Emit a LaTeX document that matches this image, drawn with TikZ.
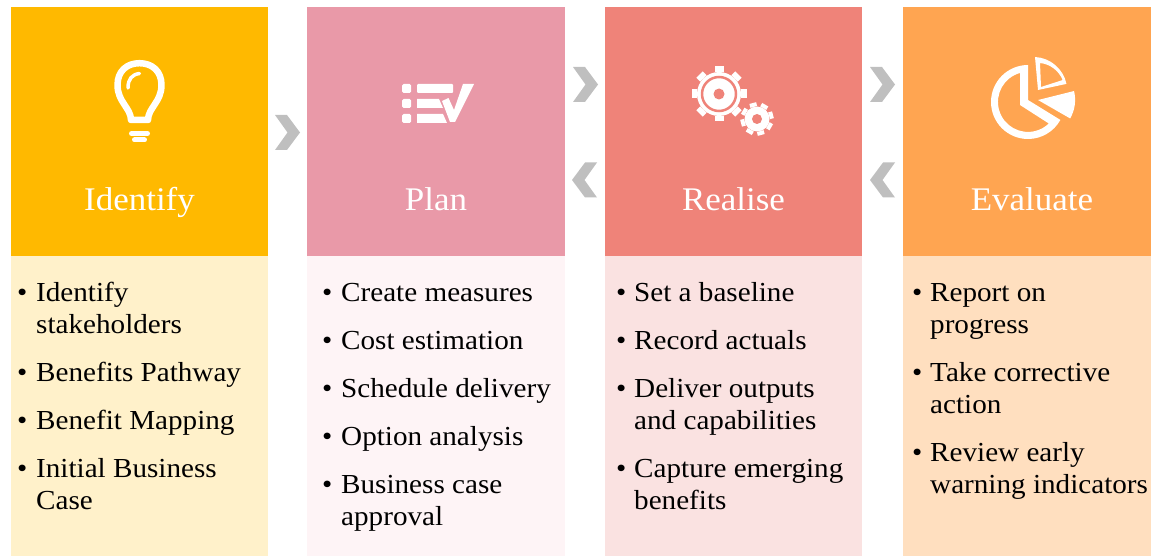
\documentclass[tikz,border=0pt]{standalone}
\usepackage{fontspec}
\setmainfont[FakeStretch=1.06]{Liberation Serif}
\definecolor{cA}{HTML}{FFB900}\definecolor{pA}{HTML}{FFF1CA}
\definecolor{cB}{HTML}{E999A8}\definecolor{pB}{HTML}{FEF4F6}
\definecolor{cC}{HTML}{EF8379}\definecolor{pC}{HTML}{FAE2E1}
\definecolor{cD}{HTML}{FFA551}\definecolor{pD}{HTML}{FFDFBF}
\definecolor{chev}{HTML}{BFBFBF}
\tikzset{
  x=1pt,y=-1pt,
  title/.style={text=white,inner sep=0,anchor=base,font=\fontsize{33}{33}\selectfont},
  itemtext/.style={inner sep=0,anchor=north west,align=left,text=black,
     font=\fontsize{27.5}{32}\selectfont},
  chevron/.style={fill=chev,draw=none},
  icon/.style={draw=white,fill=none,line width=#1},
}
\newcommand{\bulleted}[5]{%
  \node[itemtext] (#1) at (#3,#4-21.4) {\strut #5};
  \node[itemtext] (#1b) at (#2,#4-21.4) {\strut •};
}
\newcommand{\chevright}[2]{\fill[chevron] (#1,#2-17.5) -- ++(12,0) -- ++(13,17.5) -- ++(-13,17.5) -- ++(-12,0) -- ++(12.5,-17.5) -- cycle;}
\newcommand{\chevleft}[2]{\fill[chevron] (#1,#2-17.5) -- ++(-12,0) -- ++(-13,17.5) -- ++(13,17.5) -- ++(12,0) -- ++(-12.5,-17.5) -- cycle;}
\newcommand{\gearteeth}[6]{%
  \foreach \a in {0,45,...,315}{
    \fill[white,rotate around={\a+#6:(#1,#2)}] (#1-#5,#2-#3) -- (#1-#5,#2-#4) -- (#1+#5,#2-#4) -- (#1+#5,#2-#3) -- cycle;
  }
  \fill[white] (#1,#2) circle[radius=#3];
}
\begin{document}
\begin{tikzpicture}
\useasboundingbox (0,0) rectangle (1151,556);
\fill[cA] (11,7) rectangle (268,256);  \fill[pA] (11,256) rectangle (268,556);
\fill[cB] (307,7) rectangle (565,256); \fill[pB] (307,256) rectangle (565,556);
\fill[cC] (605,7) rectangle (862,256); \fill[pC] (605,256) rectangle (862,556);
\fill[cD] (903,7) rectangle (1151,256);\fill[pD] (903,256) rectangle (1151,556);
\chevright{275}{132.5}
\chevright{573}{84.5}
\chevleft{597}{180}
\chevright{870}{84.5}
\chevleft{895}{180}
\node[title] (t1) at (139.5,211) {Identify};
\node[title] (t2) at (436,211) {Plan};
\node[title] (t3) at (733.5,211) {Realise};
\node[title] (t4) at (1032,211) {Evaluate};
% bulb
\draw[icon=6.5pt,line join=round] (131,120) .. controls (131,108) and (117.5,102) .. (117.5,85)
   .. controls (117.5,71) and (127,63.2) .. (139.5,63.2) .. controls (152,63.2) and (161.5,71) .. (161.5,85)
   .. controls (161.5,102) and (148,108) .. (148,120) -- cycle;
\draw[icon=3.5pt,line cap=round] (128,88) .. controls (128,79) and (132,74.5) .. (139.5,73.5);
\draw[icon=5pt,line cap=round] (131.5,133.5) -- (147.5,133.5);
\draw[icon=5pt,line cap=round] (134.5,140) -- (144.5,140);
% checklist
\fill[white,rounded corners=1.5pt] (402,84) rectangle (411,93);
\fill[white,rounded corners=1.5pt] (402,99) rectangle (411,108);
\fill[white,rounded corners=1.5pt] (402,114) rectangle (411,123);
\fill[white,rounded corners=1pt] (417,84) rectangle (453,93);
\fill[white] (417,99) -- (439,99) -- (443,108) -- (417,108) -- cycle;
\fill[white] (417,114) -- (443,114) -- (447,123) -- (417,123) -- cycle;
\fill[white] (442,101) -- (448.5,98) -- (454,110) -- (463,84) -- (474,84) -- (455,122) -- (450,122) -- cycle;
% gears
\gearteeth{719}{94}{22}{27.5}{4.5}{0}
\draw[draw=cC,line width=2.5pt] (719,94) circle[radius=17];
\fill[cC] (719,94) circle[radius=5.5];
\gearteeth{757}{119}{12.5}{16.5}{3.5}{15}
\fill[cC] (757,119) circle[radius=5];
% pie
\fill[white,even odd rule]
  (1028,65) arc[start angle=270,end angle=29,radius=37] -- (1028,100) -- cycle
  (1020,73) arc[start angle=254.6,end angle=46,radius=30] -- (1020,105) -- cycle;
\fill[white,even odd rule]
  (1035,57) arc[start angle=-87,end angle=-12,radius=34] -- (1038,90) -- cycle
  (1040,63) arc[start angle=-84,end angle=-22,radius=27.5] -- (1041,87) -- cycle;
\fill[white] (1038,100) -- (1074,91) arc[start angle=-14,end angle=30,radius=37] -- cycle;
% lists
\bulleted{a1}{17}{36}{300}{Identify\\stakeholders}
\bulleted{a2}{17}{36}{380}{Benefits Pathway}
\bulleted{a3}{17}{36}{428}{Benefit Mapping}
\bulleted{a4}{17}{36}{476}{Initial Business\\Case}
\bulleted{b1}{322}{341}{300}{Create measures}
\bulleted{b2}{322}{341}{348}{Cost estimation}
\bulleted{b3}{322}{341}{396}{Schedule delivery}
\bulleted{b4}{322}{341}{444}{Option analysis}
\bulleted{b5}{322}{341}{492}{Business case\\approval}
\bulleted{c1}{616}{634}{300}{Set a baseline}
\bulleted{c2}{616}{634}{348}{Record actuals}
\bulleted{c3}{616}{634}{396}{Deliver outputs\\and capabilities}
\bulleted{c4}{616}{634}{476}{Capture emerging\\benefits}
\bulleted{d1}{912}{930}{300}{Report on\\progress}
\bulleted{d2}{912}{930}{380}{Take corrective\\action}
\bulleted{d3}{912}{930}{460}{Review early\\warning indicators}
\end{tikzpicture}
\end{document}
